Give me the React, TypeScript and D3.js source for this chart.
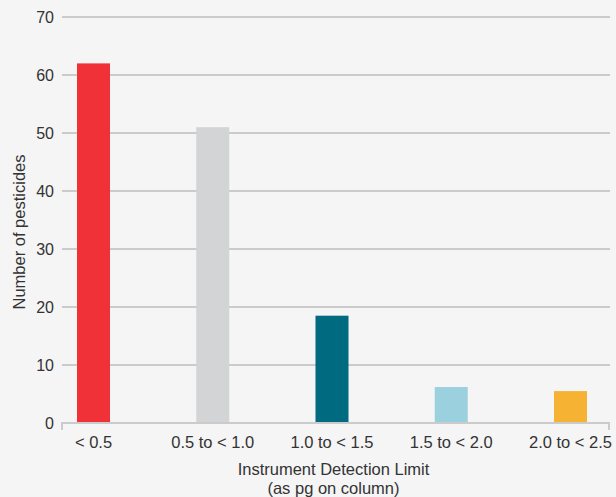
import React from "react";
import * as d3 from "d3";

const categories = ["< 0.5", "0.5 to < 1.0", "1.0 to < 1.5", "1.5 to < 2.0", "2.0 to < 2.5"];
const values = [62, 51, 18.5, 6.2, 5.5];
const colors = ["#f03137", "#d3d4d6", "#006a80", "#9bd1de", "#f5b233"];
const yTicks = [0, 10, 20, 30, 40, 50, 60, 70];

const W = 616;
const H = 497;
const left = 62;
const right = 610;
const top = 17;
const bottom = 423;

export default function App() {
  const y = d3.scaleLinear().domain([0, 70]).range([bottom, top]);
  const x = d3.scalePoint<string>().domain(categories).range([93.5, 570.5]);
  const barW = 33;
  const font = "'Liberation Sans', Arial, Helvetica, sans-serif";
  const fs = 16.5;
  return (
    <svg
      width={W}
      height={H}
      style={{ position: "fixed", left: 0, top: 0, background: "#f5f5f5" }}
      fontFamily={font}
    >
      <rect x={0} y={0} width={W} height={H} fill="#f5f5f5" />
      {yTicks.map((t) => (
        <g key={t}>
          {t > 0 && (
            <line x1={left} x2={right} y1={y(t)} y2={y(t)} stroke="#cbcbcb" strokeWidth={2} />
          )}
          <text x={54} y={y(t)} dy="0.35em" textAnchor="end" fontSize={16} fill="#333">
            {t}
          </text>
        </g>
      ))}
      {categories.map((c, i) => (
        <rect
          key={c}
          x={(x(c) as number) - barW / 2}
          y={y(values[i])}
          width={barW}
          height={bottom - y(values[i])}
          fill={colors[i]}
        />
      ))}
      <line x1={left} x2={right} y1={bottom} y2={bottom} stroke="#cbcbcb" strokeWidth={2} />
      <line x1={left} x2={left} y1={bottom - 1} y2={bottom + 7} stroke="#cbcbcb" strokeWidth={2} />
      <line x1={right - 1} x2={right - 1} y1={bottom - 1} y2={bottom + 7} stroke="#cbcbcb" strokeWidth={2} />
      {categories.map((c) => (
        <text key={c} x={x(c) as number} y={447.5} textAnchor="middle" fontSize={fs} fill="#333">
          {c}
        </text>
      ))}
      <text x={333.5} y={475} textAnchor="middle" fontSize={fs} fill="#333">
        Instrument Detection Limit
      </text>
      <text x={333.5} y={494} textAnchor="middle" fontSize={fs} fill="#333">
        (as pg on column)
      </text>
      <text
        transform={`translate(25, 232) rotate(-90)`}
        textAnchor="middle"
        fontSize={fs}
        fill="#333"
      >
        Number of pesticides
      </text>
    </svg>
  );
}
